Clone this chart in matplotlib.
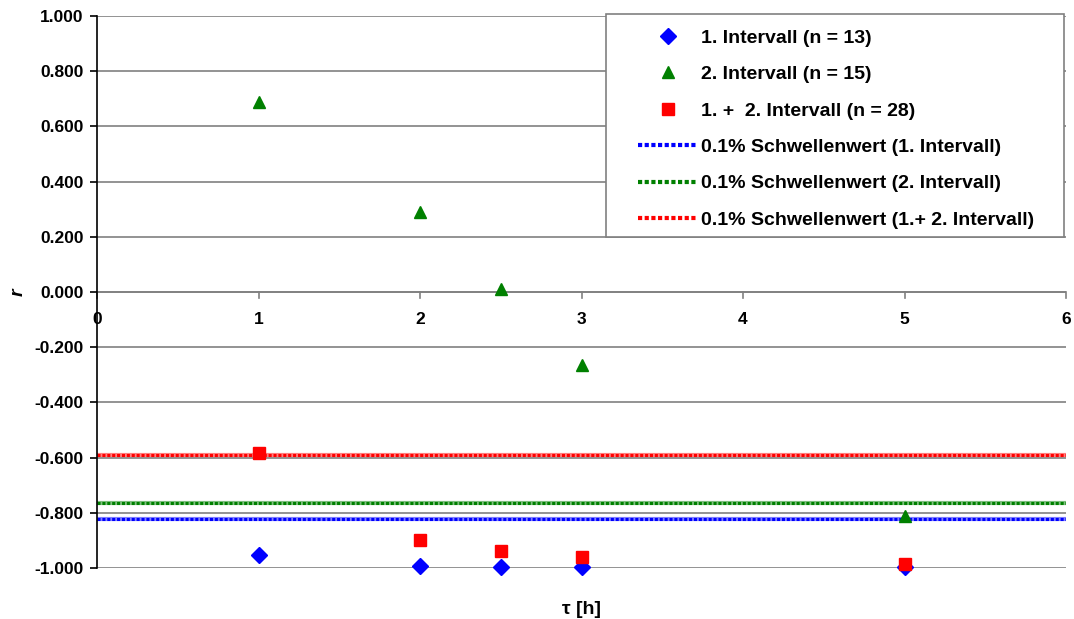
import matplotlib
matplotlib.use("Agg")
import matplotlib.pyplot as plt
from matplotlib.lines import Line2D
from matplotlib.patches import Rectangle

plt.rcParams['font.family'] = ['Liberation Sans', 'DejaVu Sans']
plt.rcParams['axes.unicode_minus'] = False

tau = [1, 2, 2.5, 3, 5]
r_int1 = [-0.953, -0.993, -0.996, -0.997, -0.998]
r_int2 = [0.688, 0.290, 0.011, -0.264, -0.812]
r_both = [-0.583, -0.899, -0.938, -0.960, -0.986]
thr_int1 = -0.824
thr_int2 = -0.763
thr_both = -0.591
xticks = [0, 1, 2, 3, 4, 5, 6]
yticks = [-1.0, -0.8, -0.6, -0.4, -0.2, 0.0, 0.2, 0.4, 0.6, 0.8, 1.0]

labels_pts = ['1. Intervall (n = 13)', '2. Intervall (n = 15)', '1. +  2. Intervall (n = 28)']
labels_thr = ['0.1% Schwellenwert (1. Intervall)', '0.1% Schwellenwert (2. Intervall)',
              '0.1% Schwellenwert (1.+ 2. Intervall)']

W, H = 1074, 619
fig = plt.figure(figsize=(W/100, H/100), dpi=100)
ax = fig.add_axes([97/W, 1-568/H, (1066-97)/W, (568-16)/H])
ax.set_xlim(0, 6)
ax.set_ylim(-1.0, 1.0)

for y in yticks:
    ax.axhline(y, color='#808080', lw=1.2, zorder=1)

def hatched(y, color):
    ax.plot([0, 6], [y, y], color=color, lw=3.0, alpha=0.5, solid_capstyle='butt', zorder=2)
    ax.plot([0, 6], [y, y], color=color, lw=2.2, dashes=(1.0, 0.6), zorder=2)

hatched(thr_both, 'red')
hatched(thr_int2, 'green')
hatched(thr_int1, 'blue')

ax.plot(tau, r_int1, 'D', color='blue', ms=8, mec='blue', zorder=4, clip_on=False)
ax.plot(tau, r_int2, '^', color='green', ms=9, mec='green', zorder=4, clip_on=False)
ax.plot(tau, r_both, 's', color='red', ms=9, mec='red', zorder=5, clip_on=False)

for s in ['top', 'right', 'bottom']:
    ax.spines[s].set_visible(False)
ax.spines['left'].set_color('black')
ax.spines['left'].set_linewidth(1.2)
ax.axhline(0, color='#808080', lw=1.2, zorder=1)

ax.set_yticks(yticks)
ax.set_yticklabels([f'{v:.3f}' for v in yticks], fontsize=12.5, fontweight='bold')
ax.set_xticks([])
for x in xticks:
    ax.plot([x, x], [0, -0.02], color='#808080', lw=1.2, clip_on=False, zorder=1)
    ax.text(x, -0.072, str(x), ha='center', va='top', fontsize=12.5, fontweight='bold')
ax.tick_params(axis='y', direction='out', length=5, color='black', width=1.2, pad=4.5)

ax.set_ylabel('r', fontsize=14, fontweight='bold', style='italic')
ax.yaxis.set_label_coords(-0.073, 0.5)
ax.set_xlabel('τ [h]', fontsize=14, fontweight='bold')
ax.xaxis.set_label_coords(0.5, -0.06)

# legend frame
rect = Rectangle((606/W, 1-237/H), (1064-606)/W, (237-14)/H, transform=fig.transFigure,
                 facecolor='white', edgecolor='#808080', lw=1.2, zorder=6, clip_on=False)
ax.add_patch(rect)

handles = [
    Line2D([], [], ls='none', marker='D', color='blue', ms=8),
    Line2D([], [], ls='none', marker='^', color='green', ms=9),
    Line2D([], [], ls='none', marker='s', color='red', ms=9),
    Line2D([], [], color='blue', lw=3, dashes=(1.0, 0.6)),
    Line2D([], [], color='green', lw=3, dashes=(1.0, 0.6)),
    Line2D([], [], color='red', lw=3, dashes=(1.0, 0.6)),
]
leg = ax.legend(handles, labels_pts + labels_thr, loc='upper left',
                bbox_to_anchor=(638/W, 1-29/H), bbox_transform=fig.transFigure,
                prop={'weight': 'bold', 'size': 14}, frameon=False,
                handlelength=3.1, handletextpad=0.15,
                labelspacing=0.97, borderpad=0, borderaxespad=0)
leg.set_zorder(7)

fig.savefig('out.png', dpi=100)
